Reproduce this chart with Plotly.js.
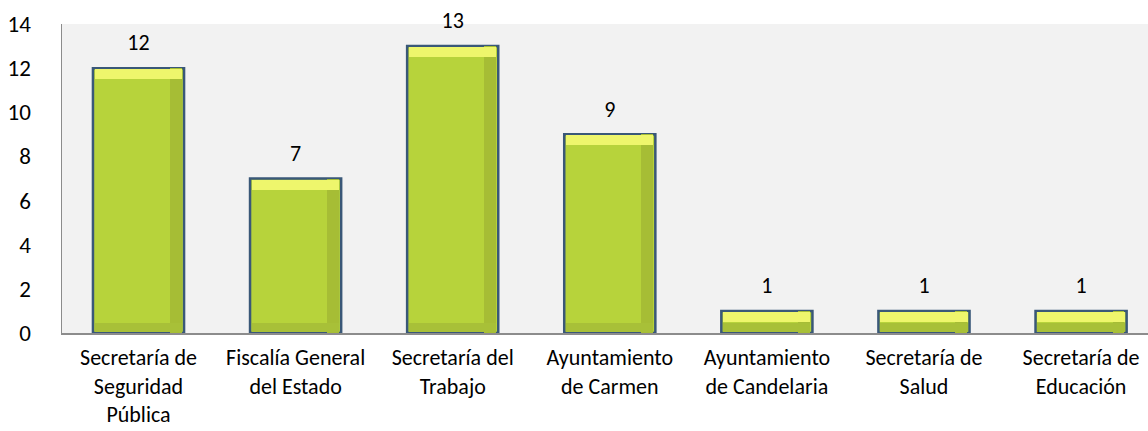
<!DOCTYPE html>
<html>
<head>
<meta charset="utf-8">
<script src="https://cdn.plot.ly/plotly-3.0.1.min.js"></script>
<style>html,body{margin:0;padding:0;background:#fff}#chart{width:1148px;height:431px}</style>
</head>
<body>
<div id="chart"></div>
<script>
const categories = [
  "Secretaría de<br>Seguridad<br>Pública",
  "Fiscalía General<br>del Estado",
  "Secretaría del<br>Trabajo",
  "Ayuntamiento<br>de Carmen",
  "Ayuntamiento<br>de Candelaria",
  "Secretaría de<br>Salud",
  "Secretaría de<br>Educación"
];
const values = [12, 7, 13, 9, 1, 1, 1];
const yTicks = [0, 2, 4, 6, 8, 10, 12, 14];

const FONT = "Carlito, Calibri, Lato, sans-serif";
const idx = categories.map((c, i) => i);
const CAP = 0.45;
const BOT = 0.4;

const traces = [
  {
    type: "bar", x: idx, y: values, width: 0.58,
    marker: {color: "#B7D33B", line: {color: "#3A5878", width: 2.5}},
    hoverinfo: "skip", showlegend: false
  },
  {
    type: "bar", x: idx, y: values, width: 0.075, offset: 0.2,
    marker: {color: "#A6BD35", line: {width: 0}},
    hoverinfo: "skip", showlegend: false
  },
  {
    type: "bar", x: idx, y: values.map(() => BOT), base: values.map(() => 0.04),
    width: 0.555,
    marker: {color: "#A8C038", line: {width: 0}},
    hoverinfo: "skip", showlegend: false
  },
  {
    type: "bar", x: idx, y: values.map(() => CAP), base: values.map(v => v - CAP - 0.05),
    width: 0.555,
    marker: {color: "#EEF66C", line: {width: 0}},
    hoverinfo: "skip", showlegend: false
  },
  {
    type: "scatter", mode: "markers+text", x: idx, y: values,
    text: values.map(String), textposition: "top center",
    textfont: {family: FONT, size: 22, color: "#000"},
    marker: {size: 18, opacity: 0},
    hoverinfo: "skip", showlegend: false, cliponaxis: false
  }
];

const layout = {
  width: 1148, height: 431,
  margin: {l: 62, r: 0, t: 24, b: 98},
  paper_bgcolor: "#ffffff", plot_bgcolor: "#F2F2F2",
  barmode: "overlay",
  font: {family: FONT, size: 22, color: "#000"},
  xaxis: {
    range: [-0.487, 6.426],
    tickmode: "array", tickvals: idx, ticktext: categories,
    showgrid: false, zeroline: false,
    showline: true, linecolor: "#8C8C8C", linewidth: 1.5,
    ticks: "", ticklabelstandoff: 4,
    tickfont: {family: FONT, size: 22, color: "#000"}
  },
  yaxis: {
    range: [0, 14],
    tickmode: "array", tickvals: yTicks,
    showgrid: false, zeroline: false,
    showline: true, linecolor: "#8C8C8C", linewidth: 1.5,
    ticks: "", ticklabelstandoff: 25,
    tickfont: {family: FONT, size: 23, color: "#000"}
  },
  bargap: 0
};

Plotly.newPlot("chart", traces, layout, {displayModeBar: false, staticPlot: true});
</script>
</body>
</html>
